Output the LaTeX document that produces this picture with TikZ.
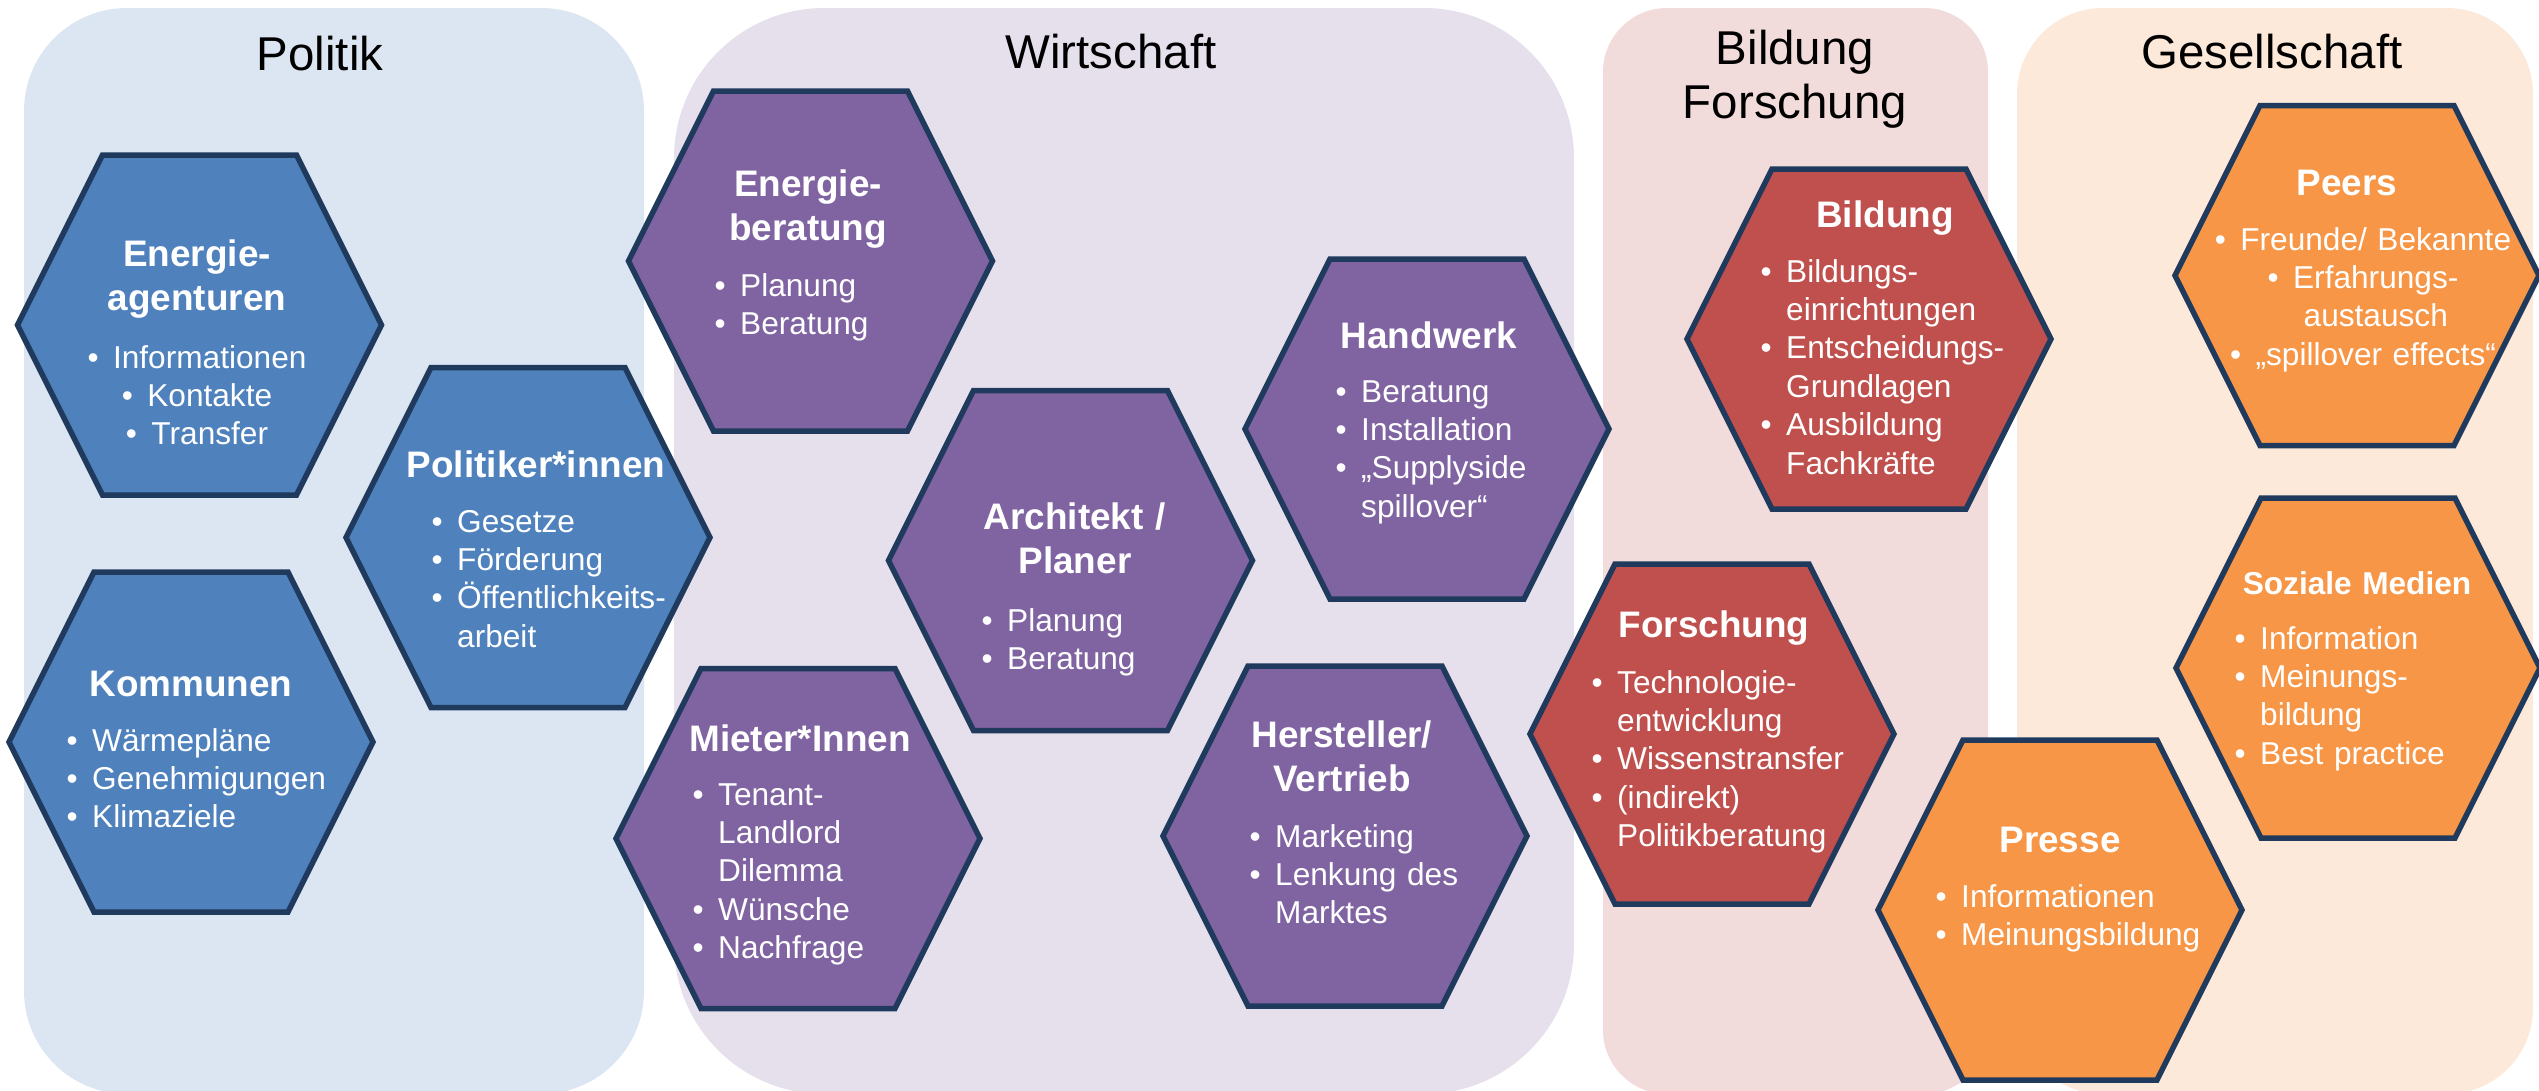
\documentclass[tikz,border=0pt]{standalone}
\usepackage{fontspec}
\setmainfont{Liberation Sans}

\definecolor{polbg}{HTML}{DCE6F2}
\definecolor{wirbg}{HTML}{E5E0EC}
\definecolor{bilbg}{HTML}{F2DCDB}
\definecolor{gesbg}{HTML}{FDE9D9}
\definecolor{hexblue}{HTML}{4F81BD}
\definecolor{hexviolet}{HTML}{8064A2}
\definecolor{hexred}{HTML}{C0504D}
\definecolor{hexorange}{HTML}{F79646}
\definecolor{hexline}{HTML}{1F3A5C}

\newcommand{\bul}{\makebox[0.255cm][l]{\textbullet}}
\newcommand{\cnt}{\hspace*{0.255cm}}

\tikzset{
  hexedge/.style = {draw=hexline, line width=0.055cm, line join=miter},
  pics/hexa/.style = {code={
    \filldraw[hexedge, fill=#1]
      (-1.82,0) -- (-0.97,1.70) -- (0.97,1.70) -- (1.82,0)
      -- (0.97,-1.70) -- (-0.97,-1.70) -- cycle;
  }},
  ptitle/.style = {
    anchor=base, inner sep=0pt, text width=4cm, align=center,
    font=\fontsize{13.5}{15.6}\selectfont
  },
  head/.style = {
    anchor=base, inner sep=0pt, text width=3.4cm, align=center,
    text=white, font=\bfseries\fontsize{10.5}{12.8}\selectfont
  },
  lst/.style  = {
    anchor=base west, inner sep=0pt, text width=3.2cm, align=left,
    text=white, font=\fontsize{9}{10.95}\selectfont
  },
  clst/.style = {lst, anchor=base, text width=3.6cm, align=center}
}

\begin{document}
\begin{tikzpicture}[x=1cm, y=1cm]
  \useasboundingbox (0,0) rectangle (25.39,-10.91);

  %% Background panels
  \fill[polbg, rounded corners=1.03cm] (0.24,-0.08) rectangle (6.44,-10.94);
  \fill[wirbg, rounded corners=1.50cm] (6.74,-0.08) rectangle (15.74,-10.94);
  \fill[bilbg, rounded corners=0.64cm] (16.03,-0.08) rectangle (19.88,-10.94);
  \fill[gesbg, rounded corners=0.86cm] (20.17,-0.08) rectangle (25.33,-10.94);

  %% Panel titles
  \node[ptitle] (tpol) at (3.20,-0.70) {Politik};
  \node[ptitle] (twir) at (11.11,-0.68) {Wirtschaft};
  \node[ptitle] (tbil) at (17.95,-0.64) {Bildung\\Forschung};
  \node[ptitle] (tges) at (22.72,-0.68) {Gesellschaft};

  %% Hexagon centres
  \coordinate (EA) at ( 1.995,-3.250);
  \coordinate (PI) at ( 5.280,-5.375);
  \coordinate (KO) at ( 1.910,-7.420);
  \coordinate (EB) at ( 8.105,-2.610);
  \coordinate (HW) at (14.270,-4.290);
  \coordinate (AR) at (10.705,-5.605);
  \coordinate (MI) at ( 7.980,-8.385);
  \coordinate (HE) at (13.450,-8.360);
  \coordinate (BI) at (18.690,-3.390);
  \coordinate (FO) at (17.120,-7.340);
  \coordinate (PE) at (23.570,-2.755);
  \coordinate (SM) at (23.580,-6.680);
  \coordinate (PR) at (20.600,-9.100);

  %% Hexagons
  \pic at (EA) {hexa=hexblue};
  \pic at (PI) {hexa=hexblue};
  \pic at (KO) {hexa=hexblue};
  \pic at (EB) {hexa=hexviolet};
  \pic at (HW) {hexa=hexviolet};
  \pic at (AR) {hexa=hexviolet};
  \pic at (MI) {hexa=hexviolet};
  \pic at (HE) {hexa=hexviolet};
  \pic at (BI) {hexa=hexred};
  \pic at (FO) {hexa=hexred};
  \pic at (PE) {hexa=hexorange};
  \pic at (SM) {hexa=hexorange};
  \pic at (PR) {hexa=hexorange};

  %% Politik
  \node[head] (ea-h) at (1.97,-2.66) {Energie-\\agenturen};
  \node[clst] (ea-l) at (1.97,-3.68) {\bul Informationen\\ \bul Kontakte\\ \bul Transfer};
  \node[head] (pi-h) at (5.36,-4.77) {Politiker*innen};
  \node[lst]  (pi-l) at (4.31,-5.32) {\bul Gesetze\\ \bul Förderung\\ \bul Öffentlichkeits-\\ \cnt arbeit};
  \node[head] (ko-h) at (1.91,-6.96) {Kommunen};
  \node[lst]  (ko-l) at (0.66,-7.51) {\bul Wärmepläne\\ \bul Genehmigungen\\ \bul Klimaziele};

  %% Wirtschaft
  \node[head] (eb-h) at (8.08,-1.96) {Energie-\\beratung};
  \node[lst]  (eb-l) at (7.14,-2.96) {\bul Planung\\ \bul Beratung};
  \node[head] (hw-h) at (14.29,-3.48) {Handwerk};
  \node[lst]  (hw-l) at (13.35,-4.02) {\bul Beratung\\ \bul Installation\\ \bul „Supplyside\\ \cnt spillover“};
  \node[head] (ar-h) at (10.75,-5.29) {Architekt /\\Planer};
  \node[lst]  (ar-l) at (9.81,-6.31) {\bul Planung\\ \bul Beratung};
  \node[head] (mi-h) at (8.00,-7.51) {Mieter*Innen};
  \node[lst]  (mi-l) at (6.92,-8.05) {\bul Tenant-\\ \cnt Landlord\\ \cnt Dilemma\\ \bul Wünsche\\ \bul Nachfrage};
  \node[head] (he-h) at (13.42,-7.47) {Hersteller/\\Vertrieb};
  \node[lst]  (he-l) at (12.49,-8.47) {\bul Marketing\\ \bul Lenkung des\\ \cnt Marktes};

  %% Bildung / Forschung
  \node[head] (bi-h) at (18.85,-2.27) {Bildung};
  \node[lst]  (bi-l) at (17.60,-2.82) {\bul Bildungs-\\ \cnt einrichtungen\\ \bul Entscheidungs-\\ \cnt Grundlagen\\ \bul Ausbildung\\ \cnt Fachkräfte};
  \node[head] (fo-h) at (17.14,-6.37) {Forschung};
  \node[lst]  (fo-l) at (15.91,-6.93) {\bul Technologie-\\ \cnt entwicklung\\ \bul Wissenstransfer\\ \bul (indirekt)\\ \cnt Politikberatung};

  %% Gesellschaft
  \node[head] (pe-h) at (23.47,-1.95) {Peers};
  \node[clst] (pe-l) at (23.63,-2.50) {\bul Freunde/ Bekannte\\ \bul Erfahrungs-\\ \cnt austausch\\ \bul „spillover effects“};
  \node[head, font=\bfseries\fontsize{9}{10.95}\selectfont] (sm-h) at (23.57,-5.94) {Soziale Medien};
  \node[lst]  (sm-l) at (22.34,-6.49) {\bul Information\\ \bul Meinungs-\\ \cnt bildung\\ \bul Best practice};
  \node[head] (pr-h) at (20.60,-8.52) {Presse};
  \node[lst]  (pr-l) at (19.35,-9.07) {\bul Informationen\\ \bul Meinungsbildung};

\end{tikzpicture}
\end{document}
